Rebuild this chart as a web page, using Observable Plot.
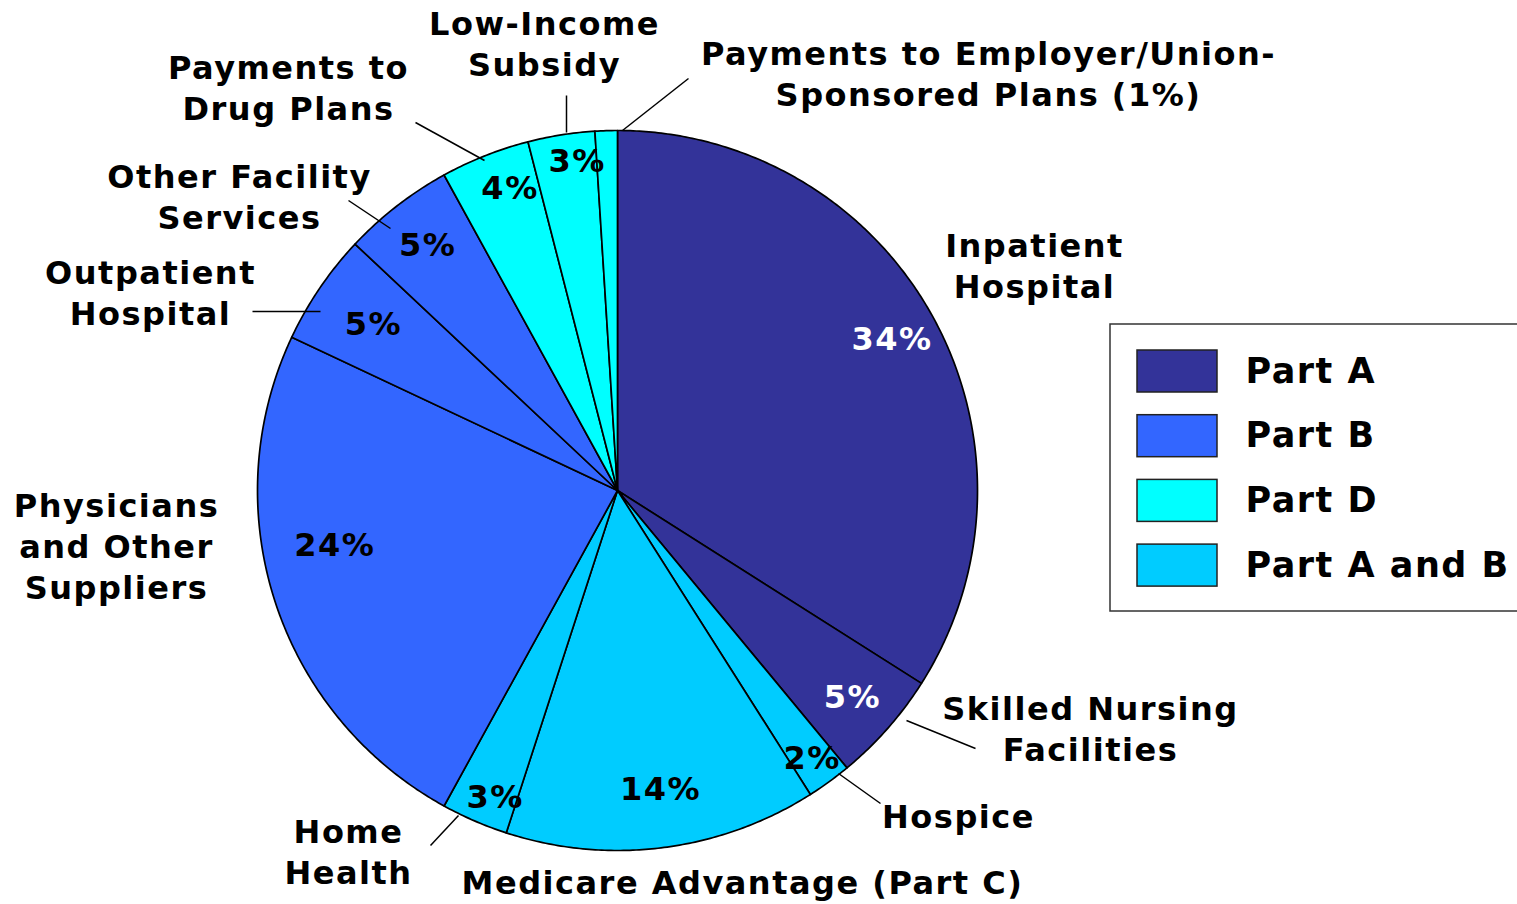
<!DOCTYPE html>
<html>
<head>
<meta charset="utf-8">
<script src="https://cdn.jsdelivr.net/npm/d3@7"></script>
<script src="https://cdn.jsdelivr.net/npm/@observablehq/plot@0.6"></script>
<style>
  html, body { margin: 0; padding: 0; background: #fff; overflow: hidden; }
  #chart svg { display: block; }
  #chart svg text { letter-spacing: 1.5px; }
</style>
</head>
<body>
<div id="chart"></div>
<script>
// ---------- DATA ----------
const categories = [
  "Inpatient Hospital",
  "Skilled Nursing Facilities",
  "Hospice",
  "Medicare Advantage (Part C)",
  "Home Health",
  "Physicians and Other Suppliers",
  "Outpatient Hospital",
  "Other Facility Services",
  "Payments to Drug Plans",
  "Low-Income Subsidy",
  "Payments to Employer/Union-Sponsored Plans"
];
const values = [34, 5, 2, 14, 3, 24, 5, 5, 4, 3, 1];
const parts = ["Part A", "Part A", "Part A and B", "Part A and B", "Part A and B",
               "Part B", "Part B", "Part B", "Part D", "Part D", "Part D"];
const legendParts = ["Part A", "Part B", "Part D", "Part A and B"];
const partColors = ["#333399", "#3366FF", "#00FFFF", "#00CCFF"];
const displayLabels = [
  "Inpatient\nHospital",
  "Skilled Nursing\nFacilities",
  "Hospice",
  "Medicare Advantage (Part C)",
  "Home\nHealth",
  "Physicians\nand Other\nSuppliers",
  "Outpatient\nHospital",
  "Other Facility\nServices",
  "Payments to\nDrug Plans",
  "Low-Income\nSubsidy",
  "Payments to Employer/Union-\nSponsored Plans (1%)"
];

// ---------- LAYOUT ----------
const W = 1517, H = 904;
const cx = 617, cy = 490, R = 360;
const FONT = "DejaVu Sans, Verdana, sans-serif";
// inner percentage label placement: radius fraction and angle nudge (deg); null = no inner label
const pctRadius = [0.87, 0.87, 0.92, 0.84, 0.92, 0.80, 0.82, 0.86, 0.89, 0.92, null];
const pctNudge  = [0, 0, 0, -1, -1.7, 7, 0, 0, 2, 2, 0];
// outer label anchors (pixel)
const labelPos = [
  [1034, 264], [1090, 727], [958, 814], [742, 880], [348, 850],
  [116, 544], [150, 291], [239, 195], [288, 86], [544, 42], [988, 72]
];
// leader lines (pixel) [x1,y1,x2,y2]
const leaders = [
  null, [906, 720, 975, 748], [838, 773, 880, 803], null, [458, 815, 430, 845],
  null, [252, 311, 320, 311], [348, 200, 390, 228], [415, 122, 484, 160],
  [566, 95, 566, 132], [622, 130, 688, 78]
];

// ---------- BUILD ----------
const pie = d3.pie().sort(null).value(d => d)(values);
const deg = Math.PI / 180;
const pt = (a, r) => [cx + r * Math.sin(a), cy - r * Math.cos(a)];

const slicePts = [];
pie.forEach((p, i) => {
  const n = Math.max(4, Math.ceil((p.endAngle - p.startAngle) / (0.5 * deg)));
  slicePts.push({i, x: cx, y: cy, part: parts[i]});
  for (let k = 0; k <= n; k++) {
    const a = p.startAngle + (p.endAngle - p.startAngle) * k / n;
    const [x, y] = pt(a, R);
    slicePts.push({i, x, y, part: parts[i]});
  }
});

const pctLabels = pie.map((p, i) => {
  if (pctRadius[i] == null) return null;
  const a = (p.startAngle + p.endAngle) / 2 + pctNudge[i] * deg;
  const [x, y] = pt(a, R * pctRadius[i]);
  return {x, y, text: values[i] + "%", color: parts[i] === "Part A" ? "#fff" : "#000"};
}).filter(d => d);

const outerLabels = categories.map((c, i) => ({x: labelPos[i][0], y: labelPos[i][1], text: displayLabels[i]}));
const leaderLines = leaders.filter(d => d).map(d => ({x1: d[0], y1: d[1], x2: d[2], y2: d[3]}));

const legendBox = [{x1: 1110, x2: 1540, y1: 324, y2: 611}];
const legendItems = legendParts.map((p, i) => ({
  part: p, x1: 1137, x2: 1217, y1: 350 + i * 64.7, y2: 392 + i * 64.7, ty: 371 + i * 64.7
}));

const chart = Plot.plot({
  width: W, height: H,
  margin: 0,
  x: {domain: [0, W], range: [0, W], axis: null},
  y: {domain: [0, H], range: [0, H], axis: null},
  color: {domain: legendParts, range: partColors},
  style: {fontFamily: FONT, background: "#fff"},
  marks: [
    Plot.line(slicePts, {x: "x", y: "y", z: "i", fill: "part", stroke: "#000", strokeWidth: 1.7, curve: "linear-closed", strokeLinejoin: "round"}),
    Plot.text(pctLabels, {x: "x", y: "y", text: "text", fill: d => d.color, fontSize: 32, fontWeight: "bold", textAnchor: "middle", lineAnchor: "middle"}),
    Plot.link(leaderLines, {x1: "x1", y1: "y1", x2: "x2", y2: "y2", stroke: "#000", strokeWidth: 1.5}),
    Plot.text(outerLabels, {x: "x", y: "y", text: "text", fill: "#000", fontSize: 32, fontWeight: "bold", textAnchor: "middle", lineAnchor: "middle", lineHeight: 1.28}),
    Plot.rect(legendBox, {x1: "x1", x2: "x2", y1: "y1", y2: "y2", fill: "#fff", stroke: "#333", strokeWidth: 1.5}),
    Plot.rect(legendItems, {x1: "x1", x2: "x2", y1: "y1", y2: "y2", fill: "part", stroke: "#222", strokeWidth: 1.5}),
    Plot.text(legendItems, {x: 1245, y: "ty", text: "part", fill: "#000", fontSize: 35, fontWeight: "bold", textAnchor: "start", lineAnchor: "middle"})
  ]
});
document.getElementById("chart").appendChild(chart);
</script>
</body>
</html>
